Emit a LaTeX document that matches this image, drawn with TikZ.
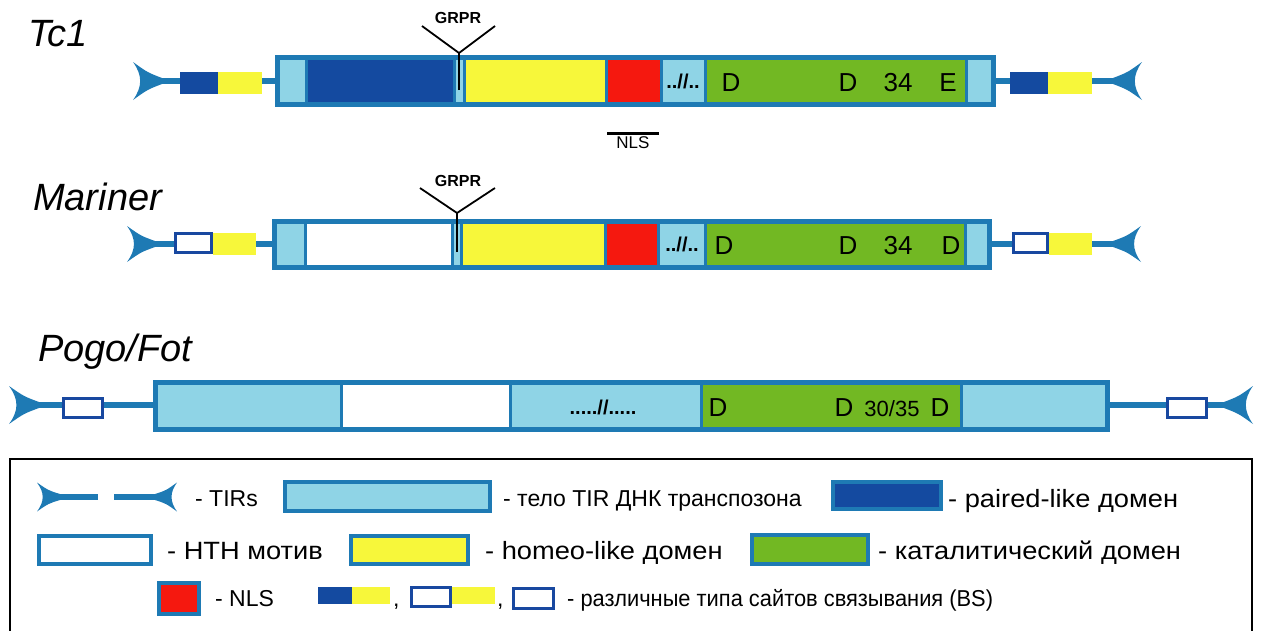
\documentclass[tikz,border=0pt]{standalone}
\usepackage{graphicx}
\usepackage{fontspec}
\setmainfont{Liberation Sans}
\definecolor{edge}{RGB}{30,122,180}
\definecolor{bodyc}{RGB}{143,212,230}
\definecolor{paired}{RGB}{20,74,160}
\definecolor{homeo}{RGB}{247,247,58}
\definecolor{nlsc}{RGB}{245,24,15}
\definecolor{catc}{RGB}{114,184,35}
\definecolor{bsedge}{RGB}{24,72,160}
% arrow-like terminal inverted repeat: back x, point x, centre y, half height
\newcommand\tirhead[4]{%
  \pgfmathsetmacro\tirA{#1+0.5*(#2-#1)}%
  \pgfmathsetmacro\tirB{#1+0.33*(#2-#1)}%
  \fill[edge] (#1,#3-#4) .. controls (\tirA,#3-0.45*#4) .. (#2,#3-3)
    -- (#2,#3+3) .. controls (\tirA,#3+0.45*#4) .. (#1,#3+#4)
    .. controls (\tirB,#3+0.3*#4) and (\tirB,#3-0.3*#4) .. cycle;}
% one domain segment of a transposon body: x1, x2, y1, y2, fill
\newcommand\domseg[5]{\filldraw[seg, fill=#5] (#1,#3) rectangle (#2,#4);}
% legend caption, horizontally stretched by #1
\newcommand\legtext[2]{\scalebox{#1}[1]{#2}}
\begin{document}
\begin{tikzpicture}[x=1pt,y=-1pt,
  seg/.style={draw=edge, line width=3pt},
  rim/.style={draw=edge, line width=5pt},
  legbox/.style={draw=edge, line width=4pt},
  spine/.style={draw=edge, line width=6pt},
  bsopen/.style={draw=bsedge, line width=3pt, fill=white},
  grprline/.style={draw=black, line width=1.8pt},
  dom/.style={font=\fontsize{26}{30}\selectfont, inner sep=0pt},
  small/.style={font=\fontsize{22}{26}\selectfont, inner sep=0pt},
  gaptext/.style={font=\bfseries\fontsize{20}{24}\selectfont, inner sep=0pt},
  title/.style={font=\itshape\fontsize{38}{44}\selectfont, inner sep=0pt, anchor=base west},
  leg/.style={font=\fontsize{23}{28}\selectfont, inner sep=0pt, anchor=base west},
  legbig/.style={font=\fontsize{25}{30}\selectfont, inner sep=0pt, anchor=base west},
  tag/.style={font=\bfseries\fontsize{16}{18}\selectfont, inner sep=0pt},
  ]
\useasboundingbox (0,0) rectangle (1262,630);
\clip (0,0) rectangle (1262,630);

%% ---------------- Tc1 ----------------
\node[title] (tctitle) at (28,46) {Tc1};
\coordinate (tcLp) at (160,81);
\coordinate (tcB1) at (278,81);
\coordinate (tcB2) at (993,81);
\coordinate (tcRp) at (1115,81);
\draw[spine] (tcLp) -- (tcB1);
\draw[spine] (tcB2) -- (tcRp);
\tirhead{133}{162}{81}{19}
\tirhead{1142}{1113}{81}{19}
\fill[paired] (180,72) rectangle (218,94);
\fill[homeo] (218,72) rectangle (262,94);
\fill[paired] (1010,72) rectangle (1048,94);
\fill[homeo] (1048,72) rectangle (1092,94);
\domseg{277.5}{306.5}{57.5}{104.5}{bodyc}
\domseg{306.5}{454.5}{57.5}{104.5}{paired}
\domseg{454.5}{464.5}{57.5}{104.5}{bodyc}
\domseg{464.5}{606.5}{57.5}{104.5}{homeo}
\domseg{606.5}{661}{57.5}{104.5}{nlsc}
\domseg{661}{705.5}{57.5}{104.5}{bodyc}
\domseg{705.5}{966.5}{57.5}{104.5}{catc}
\domseg{966.5}{993.5}{57.5}{104.5}{bodyc}
\draw[rim] (277.5,57.5) rectangle (993.5,104.5);
\node[gaptext] (tcgap) at (683,81) {..//..};
\node[dom] (tcD1) at (731,83) {D};
\node[dom] (tcD2) at (848,83) {D};
\node[dom] (tcN) at (898,83) {34};
\node[dom] (tcE) at (948,83) {E};
\coordinate (tcY) at (459,53);
\coordinate (tcYs) at (459,90);
\coordinate (tcYl) at (422,26);
\coordinate (tcYr) at (495,26);
\draw[grprline] (tcYs) -- (tcY);
\draw[grprline] (tcYl) -- (tcY) -- (tcYr);
\node[tag] (tcgrpr) at (458,18) {GRPR};
\coordinate (nlsA) at (607,133);
\coordinate (nlsB) at (659,133);
\draw[line width=3pt] (nlsA) -- (nlsB);
\node[font=\fontsize{17}{20}\selectfont, inner sep=0pt] (nlslabel) at (633,143) {NLS};

%% ---------------- Mariner ----------------
\node[title] (martitle) at (33,210) {Mariner};
\coordinate (maLp) at (153,244);
\coordinate (maB1) at (275,244);
\coordinate (maB2) at (989,244);
\coordinate (maRp) at (1115,244);
\draw[spine] (maLp) -- (maB1);
\draw[spine] (maB2) -- (maRp);
\tirhead{127}{155}{244}{18}
\tirhead{1141}{1113}{244}{18}
\fill[homeo] (213,233) rectangle (256,255);
\draw[bsopen] (175.5,233.5) rectangle (211.5,252.5);
\fill[homeo] (1049,233) rectangle (1092,255);
\draw[bsopen] (1013.5,233.5) rectangle (1047.5,252.5);
\domseg{274.5}{305.5}{221.5}{267.5}{bodyc}
\domseg{305.5}{452}{221.5}{267.5}{white}
\domseg{452}{461.5}{221.5}{267.5}{bodyc}
\domseg{461.5}{605.5}{221.5}{267.5}{homeo}
\domseg{605.5}{658.5}{221.5}{267.5}{nlsc}
\domseg{658.5}{705}{221.5}{267.5}{bodyc}
\domseg{705}{965}{221.5}{267.5}{catc}
\domseg{965}{989.5}{221.5}{267.5}{bodyc}
\draw[rim] (274.5,221.5) rectangle (989.5,267.5);
\node[gaptext] (magap) at (682,244) {..//..};
\node[dom] (maD1) at (724,246) {D};
\node[dom] (maD2) at (848,246) {D};
\node[dom] (maN) at (898,246) {34};
\node[dom] (maD3) at (951,246) {D};
\coordinate (maY) at (457,213);
\coordinate (maYs) at (457,252);
\coordinate (maYl) at (420,188);
\coordinate (maYr) at (495,188);
\draw[grprline] (maYs) -- (maY);
\draw[grprline] (maYl) -- (maY) -- (maYr);
\node[tag] (magrpr) at (458,181) {GRPR};

%% ---------------- Pogo/Fot ----------------
\node[title] (potitle) at (38,361) {Pogo/Fot};
\coordinate (poLp) at (37,405);
\coordinate (poB1) at (156,405);
\coordinate (poB2) at (1107,405);
\coordinate (poRp) at (1226,405);
\draw[spine] (poLp) -- (poB1);
\draw[spine] (poB2) -- (poRp);
\tirhead{9}{39}{405}{19}
\tirhead{1253}{1224}{405}{19}
\draw[bsopen] (63.5,398.5) rectangle (102.5,417.5);
\draw[bsopen] (1167.5,398.5) rectangle (1206.5,417.5);
\domseg{155.5}{341}{382.5}{429.5}{bodyc}
\domseg{341}{510}{382.5}{429.5}{white}
\domseg{510}{701}{382.5}{429.5}{bodyc}
\domseg{701}{961.5}{382.5}{429.5}{catc}
\domseg{961.5}{1107.5}{382.5}{429.5}{bodyc}
\draw[rim] (155.5,382.5) rectangle (1107.5,429.5);
\node[gaptext] (pogap) at (603,407) {.....//.....};
\node[dom] (poD1) at (718,408) {D};
\node[dom] (poD2) at (844,408) {D};
\node[small] (poN) at (892,409) {30/35};
\node[dom] (poD3) at (940,408) {D};

%% ---------------- legend ----------------
\draw[line width=2pt] (10,640) -- (10,459) -- (1252,459) -- (1252,640);
% row 1
\coordinate (lgA) at (56,497);
\coordinate (lgB) at (98,497);
\coordinate (lgC) at (114,497);
\coordinate (lgD) at (159,497);
\draw[spine] (lgA) -- (lgB);
\draw[spine] (lgC) -- (lgD);
\tirhead{37}{60}{497}{14.5}
\tirhead{177}{155}{497}{14.5}
\node[leg] (lgtir) at (195,506) {- TIRs};
\filldraw[legbox, fill=bodyc] (285,482) rectangle (490,511);
\node[leg] (lgbody) at (503,506) {- тело TIR ДНК транспозона};
\filldraw[legbox, fill=paired] (833,482) rectangle (941,509);
\node[legbig] (lgpaired) at (948,507) {\legtext{1.09}{- paired-like домен}};
% row 2
\filldraw[legbox, fill=white] (39,536) rectangle (151,564);
\node[legbig] (lghth) at (167,559) {\legtext{1.09}{- HTH мотив}};
\filldraw[legbox, fill=homeo] (351,536) rectangle (468,564);
\node[legbig] (lghomeo) at (485,559) {\legtext{1.09}{- homeo-like домен}};
\filldraw[legbox, fill=catc] (752,535) rectangle (868,564);
\node[legbig] (lgcat) at (878,559) {\legtext{1.09}{- каталитический домен}};
% row 3
\filldraw[legbox, fill=nlsc] (159,583) rectangle (199,614);
\node[leg] (lgnls) at (215,606) {- NLS};
\fill[paired] (318,587) rectangle (352,604);
\fill[homeo] (352,587) rectangle (390,604);
\node[leg] (lgc1) at (393,606) {,};
\fill[homeo] (452,587) rectangle (495,604);
\draw[bsopen] (411.5,587.5) rectangle (450.5,606.5);
\node[leg] (lgc2) at (497,606) {,};
\draw[bsopen] (513.5,588.5) rectangle (553.5,608.5);
\node[leg] (lgbs) at (567,606) {\legtext{0.95}{- различные типа сайтов связывания (BS)}};
\end{tikzpicture}
\end{document}
